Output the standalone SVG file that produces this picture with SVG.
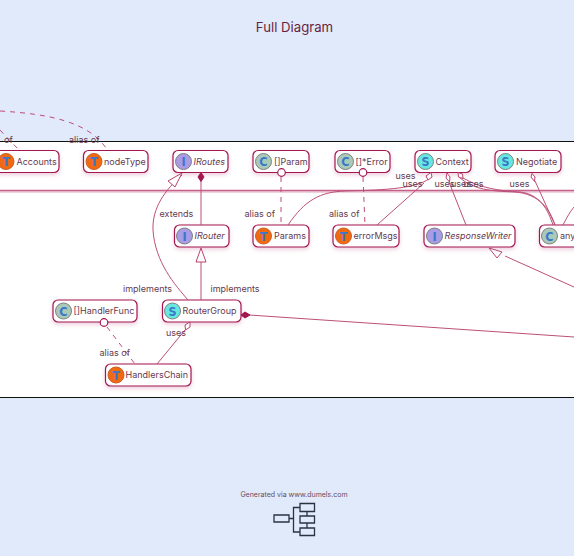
<svg xmlns="http://www.w3.org/2000/svg" width="574" height="556" viewBox="0 0 574 556">
<style>
text{font-family:"Inter","Liberation Sans",sans-serif;font-size:9px;fill:#663a50}
.t{font-size:13.200px;text-anchor:middle;fill:#6b1f40}
.l{font-size:9px}
.n{fill:#fff;stroke:#a3164f;stroke-width:1.2;filter:url(#s)}
.c{fill:none;stroke:#bd4f78;stroke-width:1}
.d{stroke-dasharray:5 5}
.b{stroke:#c6608a;stroke-width:1.400}
.g{font-size:12.500px;font-weight:bold;text-anchor:middle;fill:#3a78c8;font-family:"DejaVu Sans Condensed","DejaVu Sans",sans-serif}
.ct{fill:#a9c9b9;stroke:#808080}.tt{fill:#f26a10;stroke:#c9602a}.it{fill:#a99be6;stroke:#808080}.st{fill:#66e8e0;stroke:#808080}
.o{fill:#fff;stroke:#a3164f;stroke-width:1.200}
.a{fill:#fff;stroke:#b9436f;stroke-width:1}
.f{fill:#a3164f;stroke:#a3164f}
.k{fill:none;stroke:#2b3240;stroke-width:1.300}
</style>
<defs>
<filter id="s" x="-15%" y="-25%" width="130%" height="160%"><feDropShadow dx="0" dy="2" stdDeviation="2" flood-color="#a3164f" flood-opacity="0.2"/></filter>
</defs>
<rect width="574" height="556" fill="#e0eafa"/>
<rect x="0" y="141" width="574" height="256" fill="#fff"/>
<path d="M0 141.500H574M0 397.500H574" stroke="#111" stroke-width="1" fill="none"/>
<text class="t" x="294.500" y="32">Full Diagram</text>
<g id="Accounts"><rect class="n" x="-20" y="150.500" width="79" height="22" rx="5"/><circle class="tt" cx="6" cy="161.500" r="8"/><text class="g" x="6" y="166">T</text><text x="16.500" y="164.500">Accounts</text></g>
<g id="nodeType"><rect class="n" x="83.500" y="150.500" width="64.500" height="22" rx="5"/><circle class="tt" cx="94" cy="161.500" r="8"/><text class="g" x="94" y="166">T</text><text x="104" y="164.500">nodeType</text></g>
<g id="IRoutes"><rect class="n" x="173" y="150.500" width="55" height="22" rx="5"/><circle class="it" cx="183.500" cy="161.500" r="8"/><text class="g" x="183.500" y="166">I</text><text x="193.500" y="164.500" font-style="italic">IRoutes</text></g>
<g id="Param"><rect class="n" x="253" y="150.500" width="56" height="22" rx="5"/><circle class="ct" cx="263.500" cy="161.500" r="8"/><text class="g" x="263.500" y="166">C</text><text x="274" y="164.500">[]Param</text></g>
<g id="Error"><rect class="n" x="335" y="150.500" width="55" height="22" rx="5"/><circle class="ct" cx="345.500" cy="161.500" r="8"/><text class="g" x="345.500" y="166">C</text><text x="355.500" y="164.500">[]*Error</text></g>
<g id="Context"><rect class="n" x="415" y="150.500" width="56" height="22" rx="5"/><circle class="st" cx="425.500" cy="161.500" r="8"/><text class="g" x="425.500" y="166">S</text><text x="435.500" y="164.500">Context</text></g>
<g id="Negotiate"><rect class="n" x="495" y="150.500" width="66" height="22" rx="5"/><circle class="st" cx="505.500" cy="161.500" r="8"/><text class="g" x="505.500" y="166">S</text><text x="516" y="164.500">Negotiate</text></g>
<g id="IRouter"><rect class="n" x="174.500" y="225" width="54.500" height="22" rx="5"/><circle class="it" cx="184.500" cy="236" r="8"/><text class="g" x="184.500" y="240.500">I</text><text x="194.500" y="239" font-style="italic">IRouter</text></g>
<g id="Params"><rect class="n" x="253" y="225" width="56" height="22" rx="5"/><circle class="tt" cx="263.500" cy="236" r="8"/><text class="g" x="263.500" y="240.500">T</text><text x="274" y="239">Params</text></g>
<g id="errorMsgs"><rect class="n" x="333" y="225" width="66" height="22" rx="5"/><circle class="tt" cx="343.500" cy="236" r="8"/><text class="g" x="343.500" y="240.500">T</text><text x="353.500" y="239">errorMsgs</text></g>
<g id="ResponseWriter"><rect class="n" x="424" y="225" width="91" height="22" rx="5"/><circle class="it" cx="434.500" cy="236" r="8"/><text class="g" x="434.500" y="240.500">I</text><text x="444.500" y="239" font-style="italic">ResponseWriter</text></g>
<g id="any"><rect class="n" x="539.500" y="225" width="60" height="22" rx="5"/><circle class="ct" cx="549.500" cy="236" r="8"/><text class="g" x="549.500" y="240.500">C</text><text x="560" y="239">any</text></g>
<g id="HandlerFunc"><rect class="n" x="53" y="300" width="84" height="22" rx="5"/><circle class="ct" cx="63.500" cy="311" r="8"/><text class="g" x="63.500" y="315.500">C</text><text x="73.500" y="314">[]HandlerFunc</text></g>
<g id="RouterGroup"><rect class="n" x="162.500" y="300" width="78.500" height="22" rx="5"/><circle class="st" cx="172.500" cy="311" r="8"/><text class="g" x="172.500" y="315.500">S</text><text x="182.500" y="314">RouterGroup</text></g>
<g id="HandlersChain"><rect class="n" x="105.500" y="364" width="85.500" height="22" rx="5"/><circle class="tt" cx="116" cy="375" r="8"/><text class="g" x="116" y="379.500">T</text><text x="125.500" y="378">HandlersChain</text></g>
<g id="connectors">
<path class="c d" d="M0 111C50 114 88 122 106 148"/>
<path class="c d" d="M0 130L19 150"/>
<path class="c b" d="M0 190.500H574"/>
<path class="c" d="M0 192H574" stroke-opacity="0.5"/>
<path class="c" d="M201 180V225"/>
<path class="c" d="M182 175C165 190 152 208 153 230C155 262 175 285 188 300"/>
<path class="c" d="M201 262V300"/>
<path class="c d" d="M281 177V225"/>
<path class="c d" d="M363 177L365 225"/>
<path class="c" d="M288 225C305 200 320 192 345 191C390 190 415 188 429 179"/>
<path class="c" d="M377 225L424 183"/>
<path class="c" d="M466 225L449 182"/>
<path class="c" d="M460 178C475 190 490 191 515 192C540 194 550 210 555 225"/>
<path class="c" d="M463 178C480 188 500 191 520 192C540 194 548 210 553 225"/>
<path class="c" d="M535 181L555 225"/>
<path class="c" d="M563 225C567 217 570 212 574 207"/>
<path class="c" d="M505 256L574 287"/>
<path class="c" d="M249 315L574 337"/>
<path class="c d" d="M107 327L135 364"/>
<path class="c" d="M185 330L157 364"/>
<polygon class="a" points="182,173 168,181 175,187"/>
<polygon class="f" points="201,172.500 204,177 201,181.500 198,177"/>
<polygon class="a" points="201,248 196,262 206,262"/>
<polygon class="a" points="489,248 502,252 497,258"/>
<polygon class="f" points="241,315 245,312 250,315 245,318"/>
<circle class="o" cx="281.500" cy="172.500" r="3.800"/>
<circle class="o" cx="363" cy="172.500" r="3.800"/>
<circle class="o" cx="104" cy="322.500" r="3.800"/>
<polygon class="a" points="431,172.500 432,177 428,180 426,176"/>
<polygon class="a" points="447,173 450,177 449.500,182 446,178"/>
<polygon class="a" points="458,172.500 462.500,174 463,178.500 458.500,177"/>
<polygon class="a" points="532,173.500 535,177 534.500,181.500 531,177"/>
<polygon class="a" points="190,322 190,327 185.500,330 185,325"/>
</g>
<g id="labels">
<text class="l" x="4" y="143">of</text>
<text class="l" x="69" y="143">alias of</text>
<text class="l" x="159.500" y="217">extends</text>
<text class="l" x="244.500" y="217">alias of</text>
<text class="l" x="329" y="217">alias of</text>
<text class="l" x="395.500" y="179">uses</text>
<text class="l" x="402.500" y="187">uses</text>
<text class="l" x="434.500" y="187">uses</text>
<text class="l" x="451" y="187">uses</text>
<text class="l" x="463.500" y="187">uses</text>
<text class="l" x="509.500" y="187">uses</text>
<text class="l" x="123" y="292">implements</text>
<text class="l" x="210.500" y="292">implements</text>
<text class="l" x="166" y="336">uses</text>
<text class="l" x="99.500" y="356">alias of</text>
</g>
<g id="footer">
<text x="294" y="497" style="font-size:7px;text-anchor:middle;fill:#6b4a5c">Generated via www.dumels.com</text>
<path class="k" d="M274 515H289V522H274ZM300 503.500H314.500V511.500H300ZM300 516H314.500V523H300ZM300 528H314.500V535.500H300ZM289 518.500H293.500M300 507.500H293.500V532H300M307 511.500V516M307 523V528"/>
</g>
</svg>
